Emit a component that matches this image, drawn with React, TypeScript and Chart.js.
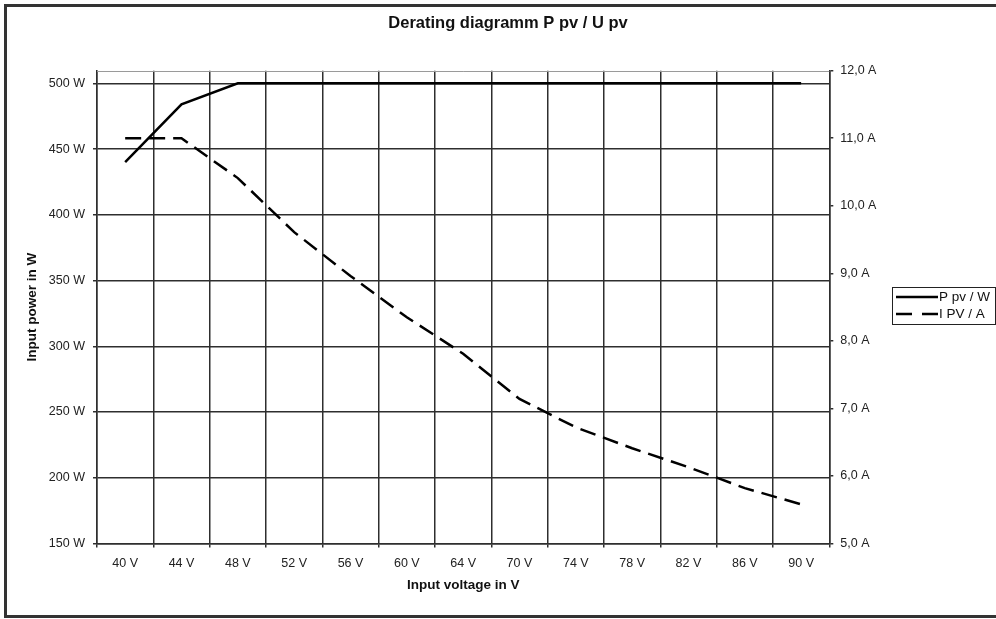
import React, { useEffect, useRef } from "react";
import { Chart, registerables } from "chart.js";

Chart.register(...registerables);

const categories = ["40 V", "44 V", "48 V", "52 V", "56 V", "60 V", "64 V", "70 V", "74 V", "78 V", "82 V", "86 V", "90 V"];
const powerW = [440, 484, 500, 500, 500, 500, 500, 500, 500, 500, 500, 500, 500];
const currentA = [11.0, 11.0, 10.41, 9.61, 8.96, 8.35, 7.81, 7.14, 6.72, 6.41, 6.13, 5.82, 5.58];
const powerTicks = [150, 200, 250, 300, 350, 400, 450, 500];
const currentTicks = [5, 6, 7, 8, 9, 10, 11, 12];

const FONT = '"Liberation Sans", Arial, sans-serif';
const GRID = "#2e2e2e";

const framePlugin = {
  id: "frameAndLegend",
  afterDraw(chart: any) {
    const { ctx, chartArea } = chart;
    ctx.save();
    // top border of plot area
    ctx.strokeStyle = "#9a9a9a";
    ctx.lineWidth = 1;
    ctx.beginPath();
    const ty = Math.round(chartArea.top) + 0.5;
    ctx.moveTo(chartArea.left, ty);
    ctx.lineTo(chartArea.right, ty);
    ctx.stroke();

    // outer frame
    ctx.strokeStyle = "#333333";
    ctx.lineWidth = 3;
    ctx.strokeRect(5.5, 5.5, 1100, 611);

    // legend
    const bx = 892.5, by = 287.5, bw = 103, bh = 37;
    ctx.lineWidth = 1;
    ctx.strokeStyle = "#222";
    ctx.setLineDash([]);
    ctx.strokeRect(bx, by, bw, bh);
    ctx.font = "13.5px " + FONT;
    ctx.fillStyle = "#111";
    ctx.textBaseline = "middle";
    ctx.textAlign = "left";
    chart.data.datasets.forEach((ds: any, i: number) => {
      const y = 297 + i * 17;
      ctx.strokeStyle = ds.borderColor;
      ctx.lineWidth = ds.borderWidth;
      ctx.setLineDash(ds.borderDash && ds.borderDash.length ? [16, 10] : []);
      ctx.beginPath();
      ctx.moveTo(896, y);
      ctx.lineTo(938, y);
      ctx.stroke();
      ctx.setLineDash([]);
      ctx.fillText(ds.label, 939, y);
    });
    ctx.restore();
  },
};

export default function App() {
  const ref = useRef<HTMLCanvasElement>(null);
  useEffect(() => {
    const chart = new Chart(ref.current as HTMLCanvasElement, {
      type: "line",
      data: {
        labels: categories,
        datasets: [
          {
            label: "P pv / W",
            data: powerW,
            yAxisID: "yW",
            borderColor: "#000000",
            borderWidth: 2.5,
            pointRadius: 0,
            tension: 0,
            borderDash: [],
          },
          {
            label: "I PV / A",
            data: currentA,
            yAxisID: "yA",
            borderColor: "#000000",
            borderWidth: 2.5,
            pointRadius: 0,
            tension: 0,
            borderDash: [16, 8],
          },
        ],
      },
      options: {
        responsive: false,
        animation: false,
        layout: { padding: { left: 20, right: 0, top: 0, bottom: 0 } },
        plugins: {
          legend: { display: false },
          tooltip: { enabled: false },
          title: {
            display: true,
            text: "Derating diagramm P pv / U pv",
            color: "#111",
            font: { family: FONT, size: 16.5, weight: "bold" },
            padding: { top: 13.1, bottom: 37.8 },
          },
        },
        scales: {
          x: {
            type: "category",
            offset: true,
            grid: { offset: true, color: GRID, lineWidth: 1.5, tickLength: 4, tickColor: GRID },
            border: { color: GRID, width: 1.5 },
            ticks: { color: "#222", font: { family: FONT, size: 12.5 }, padding: 9, maxRotation: 0, autoSkip: false },
            title: {
              display: true,
              text: "Input voltage in V",
              color: "#111",
              font: { family: FONT, size: 13.5, weight: "bold" },
              padding: { top: 0, bottom: 25.9 },
            },
            afterFit: (s: any) => { s.height = 75.5; },
          },
          yW: {
            type: "linear",
            position: "left",
            min: 150,
            max: 509.6,
            afterBuildTicks: (s: any) => { s.ticks = powerTicks.map((v) => ({ value: v })); },
            grid: { color: GRID, lineWidth: 1.5, tickLength: 4, tickColor: GRID },
            border: { color: GRID, width: 1.5 },
            ticks: {
              color: "#222",
              font: { family: FONT, size: 12.5 },
              padding: 8,
              callback: (v: any) => v + " W",
            },
            title: {
              display: true,
              text: "Input power in W",
              color: "#111",
              font: { family: FONT, size: 13.5, weight: "bold" },
              padding: { top: 3.9, bottom: 0 },
            },
            afterFit: (s: any) => { s.width = 77; },
          },
          yA: {
            type: "linear",
            position: "right",
            min: 5,
            max: 12,
            afterBuildTicks: (s: any) => { s.ticks = currentTicks.map((v) => ({ value: v })); },
            grid: { drawOnChartArea: false, color: GRID, lineWidth: 1.5, tickLength: 4, tickColor: GRID },
            border: { color: GRID, width: 1.5 },
            ticks: {
              color: "#222",
              font: { family: FONT, size: 12.5 },
              padding: 7,
              callback: (v: any) => Number(v).toFixed(1).replace(".", ",") + " A",
            },
            afterFit: (s: any) => { s.width = 166.7; },
          },
        },
      } as any,
      plugins: [framePlugin],
    });
    return () => chart.destroy();
  }, []);
  return (
    <div style={{ position: "absolute", left: 0, top: 0, width: 996, height: 619, background: "#fff" }}>
      <canvas ref={ref} width={996} height={619} style={{ display: "block" }} />
    </div>
  );
}
